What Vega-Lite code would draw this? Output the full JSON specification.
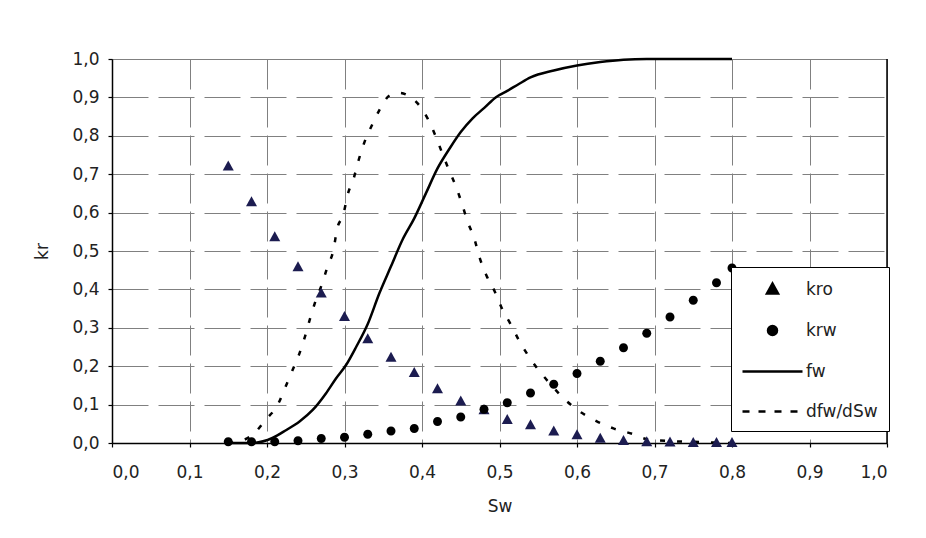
{
  "$schema": "https://vega.github.io/schema/vega-lite/v6.json",
  "autosize": {"type": "none"},
  "width": 775,
  "height": 384,
  "padding": {"left": 112, "top": 59, "right": 39, "bottom": 95},
  "background": "white",
  "config": {
    "font": "DejaVu Sans",
    "view": {"stroke": "#808080", "strokeWidth": 1},
    "axis": {
      "domainColor": "black",
      "domainWidth": 1.5,
      "tickColor": "black",
      "tickWidth": 1.2,
      "tickSize": 4,
      "gridColor": "#808080",
      "gridWidth": 1,
      "labelFont": "DejaVu Sans",
      "labelFontSize": 17,
      "labelColor": "#222",
      "labelOverlap": false,
      "titleFont": "DejaVu Sans",
      "titleFontSize": 17,
      "titleFontWeight": "normal",
      "titleColor": "#222"
    }
  },
  "datasets": {
    "points": [
      {"Sw": 0.15, "kr": 0.72, "series": "kro"},
      {"Sw": 0.18, "kr": 0.627, "series": "kro"},
      {"Sw": 0.21, "kr": 0.536, "series": "kro"},
      {"Sw": 0.24, "kr": 0.458, "series": "kro"},
      {"Sw": 0.27, "kr": 0.389, "series": "kro"},
      {"Sw": 0.30, "kr": 0.328, "series": "kro"},
      {"Sw": 0.33, "kr": 0.27, "series": "kro"},
      {"Sw": 0.36, "kr": 0.222, "series": "kro"},
      {"Sw": 0.39, "kr": 0.182, "series": "kro"},
      {"Sw": 0.42, "kr": 0.14, "series": "kro"},
      {"Sw": 0.45, "kr": 0.108, "series": "kro"},
      {"Sw": 0.48, "kr": 0.085, "series": "kro"},
      {"Sw": 0.51, "kr": 0.06, "series": "kro"},
      {"Sw": 0.54, "kr": 0.046, "series": "kro"},
      {"Sw": 0.57, "kr": 0.03, "series": "kro"},
      {"Sw": 0.60, "kr": 0.02, "series": "kro"},
      {"Sw": 0.63, "kr": 0.011, "series": "kro"},
      {"Sw": 0.66, "kr": 0.005, "series": "kro"},
      {"Sw": 0.69, "kr": 0.002, "series": "kro"},
      {"Sw": 0.72, "kr": 0.001, "series": "kro"},
      {"Sw": 0.75, "kr": 0.0, "series": "kro"},
      {"Sw": 0.78, "kr": 0.0, "series": "kro"},
      {"Sw": 0.80, "kr": 0.0, "series": "kro"},
      {"Sw": 0.15, "kr": 0.003, "series": "krw"},
      {"Sw": 0.18, "kr": 0.003, "series": "krw"},
      {"Sw": 0.21, "kr": 0.003, "series": "krw"},
      {"Sw": 0.24, "kr": 0.006, "series": "krw"},
      {"Sw": 0.27, "kr": 0.012, "series": "krw"},
      {"Sw": 0.30, "kr": 0.015, "series": "krw"},
      {"Sw": 0.33, "kr": 0.023, "series": "krw"},
      {"Sw": 0.36, "kr": 0.031, "series": "krw"},
      {"Sw": 0.39, "kr": 0.038, "series": "krw"},
      {"Sw": 0.42, "kr": 0.056, "series": "krw"},
      {"Sw": 0.45, "kr": 0.068, "series": "krw"},
      {"Sw": 0.48, "kr": 0.088, "series": "krw"},
      {"Sw": 0.51, "kr": 0.105, "series": "krw"},
      {"Sw": 0.54, "kr": 0.13, "series": "krw"},
      {"Sw": 0.57, "kr": 0.153, "series": "krw"},
      {"Sw": 0.60, "kr": 0.181, "series": "krw"},
      {"Sw": 0.63, "kr": 0.213, "series": "krw"},
      {"Sw": 0.66, "kr": 0.248, "series": "krw"},
      {"Sw": 0.69, "kr": 0.286, "series": "krw"},
      {"Sw": 0.72, "kr": 0.328, "series": "krw"},
      {"Sw": 0.75, "kr": 0.372, "series": "krw"},
      {"Sw": 0.78, "kr": 0.417, "series": "krw"},
      {"Sw": 0.80, "kr": 0.456, "series": "krw"}
    ],
    "fw": [
      {"Sw": 0.15, "kr": 0.0},
      {"Sw": 0.18, "kr": 0.0},
      {"Sw": 0.207, "kr": 0.013},
      {"Sw": 0.225, "kr": 0.034},
      {"Sw": 0.242, "kr": 0.056},
      {"Sw": 0.259, "kr": 0.086},
      {"Sw": 0.276, "kr": 0.129},
      {"Sw": 0.289, "kr": 0.168},
      {"Sw": 0.302, "kr": 0.203},
      {"Sw": 0.315, "kr": 0.25},
      {"Sw": 0.33, "kr": 0.31},
      {"Sw": 0.345, "kr": 0.39},
      {"Sw": 0.36, "kr": 0.46},
      {"Sw": 0.375, "kr": 0.53},
      {"Sw": 0.39, "kr": 0.585},
      {"Sw": 0.405, "kr": 0.65},
      {"Sw": 0.42, "kr": 0.715},
      {"Sw": 0.435, "kr": 0.765},
      {"Sw": 0.45, "kr": 0.81},
      {"Sw": 0.465, "kr": 0.845},
      {"Sw": 0.48, "kr": 0.872},
      {"Sw": 0.495, "kr": 0.9},
      {"Sw": 0.51, "kr": 0.917},
      {"Sw": 0.525, "kr": 0.935},
      {"Sw": 0.54, "kr": 0.952},
      {"Sw": 0.57, "kr": 0.97},
      {"Sw": 0.60, "kr": 0.983},
      {"Sw": 0.63, "kr": 0.992},
      {"Sw": 0.66, "kr": 0.998},
      {"Sw": 0.69, "kr": 1.0},
      {"Sw": 0.75, "kr": 1.0},
      {"Sw": 0.80, "kr": 1.0}
    ],
    "dfw": [
      {"Sw": 0.15, "kr": 0.0},
      {"Sw": 0.17, "kr": 0.008},
      {"Sw": 0.184, "kr": 0.026},
      {"Sw": 0.198, "kr": 0.06},
      {"Sw": 0.214, "kr": 0.10},
      {"Sw": 0.223, "kr": 0.142},
      {"Sw": 0.233, "kr": 0.19},
      {"Sw": 0.242, "kr": 0.234},
      {"Sw": 0.249, "kr": 0.277},
      {"Sw": 0.255, "kr": 0.32},
      {"Sw": 0.263, "kr": 0.372},
      {"Sw": 0.271, "kr": 0.414},
      {"Sw": 0.278, "kr": 0.459},
      {"Sw": 0.286, "kr": 0.505},
      {"Sw": 0.29, "kr": 0.553},
      {"Sw": 0.299, "kr": 0.599},
      {"Sw": 0.304, "kr": 0.646},
      {"Sw": 0.312, "kr": 0.69},
      {"Sw": 0.318, "kr": 0.735},
      {"Sw": 0.326, "kr": 0.785},
      {"Sw": 0.336, "kr": 0.83},
      {"Sw": 0.345, "kr": 0.867},
      {"Sw": 0.358, "kr": 0.905},
      {"Sw": 0.37, "kr": 0.912},
      {"Sw": 0.382, "kr": 0.905},
      {"Sw": 0.394, "kr": 0.885},
      {"Sw": 0.407, "kr": 0.846},
      {"Sw": 0.418, "kr": 0.797},
      {"Sw": 0.427, "kr": 0.75},
      {"Sw": 0.435, "kr": 0.71},
      {"Sw": 0.444, "kr": 0.667},
      {"Sw": 0.452, "kr": 0.62},
      {"Sw": 0.459, "kr": 0.576},
      {"Sw": 0.468, "kr": 0.529},
      {"Sw": 0.474, "kr": 0.485},
      {"Sw": 0.483, "kr": 0.437},
      {"Sw": 0.494, "kr": 0.394},
      {"Sw": 0.503, "kr": 0.351},
      {"Sw": 0.515, "kr": 0.307},
      {"Sw": 0.526, "kr": 0.264},
      {"Sw": 0.538, "kr": 0.225},
      {"Sw": 0.552, "kr": 0.186},
      {"Sw": 0.568, "kr": 0.148},
      {"Sw": 0.585, "kr": 0.112},
      {"Sw": 0.605, "kr": 0.08},
      {"Sw": 0.625, "kr": 0.057},
      {"Sw": 0.647, "kr": 0.038},
      {"Sw": 0.671, "kr": 0.024},
      {"Sw": 0.69, "kr": 0.01},
      {"Sw": 0.72, "kr": 0.005},
      {"Sw": 0.75, "kr": 0.003},
      {"Sw": 0.78, "kr": 0.001},
      {"Sw": 0.80, "kr": 0.0}
    ],
    "edge": [
      {"Sw": 1.0, "lo": 0.0, "hi": 1.0}
    ]
  },
  "encoding": {
    "x": {
      "field": "Sw", "type": "quantitative",
      "scale": {"domain": [0, 1], "nice": false},
      "axis": {
        "title": "Sw",
        "values": [0, 0.1, 0.2, 0.3, 0.4, 0.5, 0.6, 0.7, 0.8, 0.9, 1.0],
        "labelExpr": "replace(format(datum.value, '.1f'), '.', ',')",
        "labelOverlap": false,
        "labelPadding": 17,
        "titlePadding": 18,
        "gridDash": [30, 8]
      }
    },
    "y": {
      "field": "kr", "type": "quantitative",
      "scale": {"domain": [0, 1], "nice": false},
      "axis": {
        "title": "kr",
        "values": [0, 0.1, 0.2, 0.3, 0.4, 0.5, 0.6, 0.7, 0.8, 0.9, 1.0],
        "labelExpr": "replace(format(datum.value, '.1f'), '.', ',')",
        "labelOverlap": false,
        "labelPadding": 9,
        "titlePadding": 20,
        "gridDash": [36, 10]
      }
    }
  },
  "layer": [
    {
      "data": {"name": "edge"},
      "mark": {"type": "rule", "color": "black", "strokeWidth": 1.5},
      "encoding": {
        "y": {
          "field": "lo", "type": "quantitative",
          "axis": {
            "title": "kr",
            "values": [0, 0.1, 0.2, 0.3, 0.4, 0.5, 0.6, 0.7, 0.8, 0.9, 1.0],
            "labelExpr": "replace(format(datum.value, '.1f'), '.', ',')",
            "labelOverlap": false,
            "labelPadding": 9,
            "titlePadding": 20,
            "gridDash": [36, 10]
          }
        },
        "y2": {"field": "hi"}
      }
    },
    {
      "data": {"name": "fw"},
      "mark": {"type": "line", "color": "black", "strokeWidth": 2.5, "interpolate": "monotone"}
    },
    {
      "data": {"name": "dfw"},
      "mark": {"type": "line", "color": "black", "strokeWidth": 2.5, "strokeDash": [5, 12], "interpolate": "monotone"}
    },
    {
      "data": {"name": "points"},
      "mark": {"type": "point", "filled": true, "opacity": 1, "size": 400},
      "encoding": {
        "color": {
          "field": "series", "type": "nominal",
          "scale": {"domain": ["kro", "krw"], "range": ["#1c1c50", "#000000"]},
          "legend": null
        },
        "shape": {
          "field": "series", "type": "nominal",
          "scale": {
            "domain": ["kro", "krw", "fw", "dfw/dSw"],
            "range": [
              "M0,-0.6L0.55,0.4L-0.55,0.4Z",
              "M0.45,0A0.45,0.45 0 1,1 -0.45,0A0.45,0.45 0 1,1 0.45,0Z",
              "M-3,0L3,0",
              "M-3,0L-2.3,0M-1.4,0L-0.7,0M0.2,0L0.9,0M1.8,0L2.5,0"
            ]
          },
          "legend": {
            "title": null,
            "orient": "none",
            "legendX": 619,
            "legendY": 208,
            "padding": 11,
            "rowPadding": 20,
            "symbolSize": 400,
            "symbolOffset": 19,
            "labelOffset": 22,
            "labelFont": "DejaVu Sans",
            "labelFontSize": 17,
            "labelColor": "#222",
            "strokeColor": "black",
            "fillColor": "white",
            "symbolStrokeWidth": 2.5,
            "symbolStrokeColor": "black",
            "symbolFillColor": "black",
            "encode": {
              "symbols": {
                "update": {
                  "fill": {"signal": "datum.value === 'kro' ? '#1c1c50' : 'black'"},
                  "stroke": {"signal": "datum.value === 'kro' ? '#1c1c50' : 'black'"},
                  "strokeWidth": {"signal": "datum.value === 'kro' || datum.value === 'krw' ? 1 : 2.5"},
                  "opacity": {"value": 1}
                }
              },
              "legend": {
                "update": {"strokeWidth": {"value": 1.5}}
              }
            }
          }
        }
      }
    }
  ]
}
